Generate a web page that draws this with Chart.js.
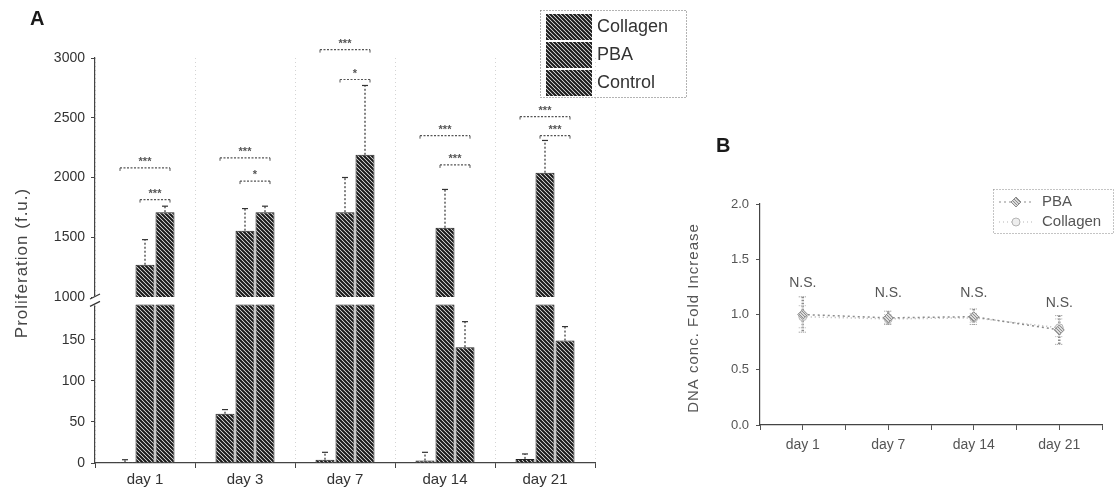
<!DOCTYPE html>
<html>
<head>
<meta charset="utf-8">
<title>Proliferation and DNA fold increase</title>
<script src="https://cdn.jsdelivr.net/npm/chart.js@4.4.1/dist/chart.umd.min.js"></script>
<style>
  html, body { margin: 0; padding: 0; background: #fff; }
  body { position: relative; width: 1115px; height: 499px; overflow: hidden; }
  canvas { position: absolute; top: 0; }
  #chartA { left: 0; }
  #chartB { left: 680px; }
</style>
</head>
<body>
<canvas id="chartA" width="700" height="499"></canvas>
<canvas id="chartB" width="435" height="499"></canvas>
<script>
// Panel A - proliferation, broken y axis
const daysA = ['day 1', 'day 3', 'day 7', 'day 14', 'day 21'];
const collagenA = [1, 60, 4, 3, 5];
const collagenErrA = [3, 5, 9, 10, 6];
const pbaA = [1270, 1555, 1710, 1580, 2040];
const pbaErrA = [210, 185, 290, 320, 270];
const controlA = [1710, 1710, 2190, 141, 149];
const controlErrA = [50, 50, 580, 31, 17];
const ticksHighA = [1000, 1500, 2000, 2500, 3000];
const ticksLowA = [0, 50, 100, 150];

// significance brackets (day, first bar, last bar, height, stars)
const sigDay = [0, 0, 1, 1, 2, 2, 3, 3, 4, 4];
const sigFrom = [0, 1, 0, 1, 0, 1, 0, 1, 0, 1];
const sigTo = [2, 2, 2, 2, 2, 2, 2, 2, 2, 2];
const sigValue = [2080, 1815, 2165, 1970, 3070, 2820, 2350, 2105, 2510, 2350];
const sigText = ['***', '***', '***', '*', '***', '*', '***', '***', '***', '***'];

// Panel B - DNA conc. fold increase
const daysB = ['day 1', 'day 7', 'day 14', 'day 21'];
const pbaB = [1.00, 0.97, 0.98, 0.86];
const pbaErrB = [0.16, 0.06, 0.07, 0.13];
const collagenB = [0.98, 0.96, 0.97, 0.88];
const collagenErrB = [0.10, 0.04, 0.04, 0.08];
const nsValueB = [1.28, 1.19, 1.19, 1.10];
const ticksB = [0, 0.5, 1.0, 1.5, 2.0];

const BREAK_LOW = 193; // top of the lower part of the broken axis
const FONT = '"Liberation Sans", Arial, sans-serif';
Chart.defaults.font.family = FONT;

// diagonal hatch like the scanned bars
function makeHatch(ctx, size, lw, color) {
    const c = document.createElement('canvas');
    c.width = size; c.height = size;
    const g = c.getContext('2d');
    g.fillStyle = '#fff';
    g.fillRect(0, 0, size, size);
    g.strokeStyle = color;
    g.lineWidth = lw;
    g.beginPath();
    g.moveTo(-1, -1); g.lineTo(size + 1, size + 1);
    g.moveTo(-1, size - 1); g.lineTo(1, size + 1);
    g.moveTo(size - 1, -1); g.lineTo(size + 1, 1);
    g.stroke();
    return ctx.createPattern(c, 'repeat');
}

function dottedLine(ctx, x1, y1, x2, y2, color, width, dash) {
    ctx.save();
    ctx.strokeStyle = color;
    ctx.lineWidth = width;
    ctx.setLineDash(dash);
    ctx.beginPath();
    ctx.moveTo(x1, y1);
    ctx.lineTo(x2, y2);
    ctx.stroke();
    ctx.restore();
}

// ---------- Panel A ----------
const ctxA = document.getElementById('chartA').getContext('2d');
const hatchA = makeHatch(ctxA, 4, 2.1, '#1a1a1a');

const barSeries = [
    { label: 'Collagen', values: collagenA, errs: collagenErrA },
    { label: 'PBA', values: pbaA, errs: pbaErrA },
    { label: 'Control', values: controlA, errs: controlErrA }
];

const datasetsA = [];
barSeries.forEach((s, i) => {
    const common = {
        label: s.label,
        stack: 's' + i,
        backgroundColor: hatchA,
        borderColor: '#222',
        borderWidth: 1,
        categoryPercentage: 0.6,
        barPercentage: 0.95
    };
    datasetsA.push(Object.assign({}, common, {
        yAxisID: 'yHigh',
        data: s.values.map(v => v >= 1000 ? v : null)
    }));
    datasetsA.push(Object.assign({}, common, {
        yAxisID: 'yLow',
        data: s.values.map(v => Math.min(v, BREAK_LOW))
    }));
});

function yPixA(chart, v) {
    const s = v >= 1000 ? chart.scales.yHigh : chart.scales.yLow;
    return s.getPixelForValue(v);
}
function barX(chart, series, day) {
    return chart.getDatasetMeta(series * 2 + 1).data[day].x;
}

const extrasA = {
    id: 'extrasA',
    afterDatasetsDraw(chart) {
        const ctx = chart.ctx;
        const yHigh = chart.scales.yHigh;
        const yLow = chart.scales.yLow;

        // error bars
        barSeries.forEach((s, si) => {
            s.values.forEach((v, di) => {
                const x = barX(chart, si, di);
                const y0 = yPixA(chart, v);
                const y1 = yPixA(chart, v + s.errs[di]);
                dottedLine(ctx, x, y0, x, y1, '#333', 1.2, [2, 2]);
                dottedLine(ctx, x - 3, y1, x + 3, y1, '#333', 1.2, []);
            });
        });

        // significance brackets
        ctx.save();
        for (let k = 0; k < sigDay.length; k++) {
            const x1 = barX(chart, sigFrom[k], sigDay[k]) - 5;
            const x2 = barX(chart, sigTo[k], sigDay[k]) + 5;
            const y = yHigh.getPixelForValue(sigValue[k]);
            dottedLine(ctx, x1, y, x2, y, '#555', 1.2, [2, 1.5]);
            dottedLine(ctx, x1, y, x1, y + 3, '#555', 1, []);
            dottedLine(ctx, x2, y, x2, y + 3, '#555', 1, []);
            ctx.fillStyle = '#555';
            ctx.font = 'bold 11px ' + FONT;
            ctx.textAlign = 'center';
            ctx.textBaseline = 'alphabetic';
            ctx.fillText(sigText[k], (x1 + x2) / 2, y - 3);
        }
        ctx.restore();

        // axis break
        const ax = yHigh.right;
        const yb = yHigh.bottom;
        const yl = yLow.getPixelForValue(BREAK_LOW);
        ctx.save();
        ctx.fillStyle = '#fff';
        ctx.fillRect(ax - 3, yb - 1, 6, yl - yb + 2);
        dottedLine(ctx, ax - 5, yb + 2, ax + 5, yb - 3, '#333', 1.2, []);
        dottedLine(ctx, ax - 5, yl + 2, ax + 5, yl - 3, '#333', 1.2, []);
        ctx.restore();
    },
    afterDraw(chart) {
        const ctx = chart.ctx;
        ctx.save();
        // panel letter
        ctx.fillStyle = '#1a1a1a';
        ctx.font = 'bold 20px ' + FONT;
        ctx.textAlign = 'left';
        ctx.textBaseline = 'middle';
        ctx.fillText('A', 30, 19);

        // y title
        ctx.save();
        ctx.translate(22, 263);
        ctx.rotate(-Math.PI / 2);
        ctx.fillStyle = '#444';
        ctx.font = '17px ' + FONT;
        ctx.letterSpacing = '1px';
        ctx.textAlign = 'center';
        ctx.textBaseline = 'middle';
        ctx.fillText('Proliferation (f.u.)', 0, 0);
        ctx.restore();

        // legend
        const lx = 540, ly = 10, lw = 146, lh = 87;
        ctx.strokeStyle = '#666';
        ctx.lineWidth = 1;
        ctx.setLineDash([1, 2]);
        ctx.strokeRect(lx + 0.5, ly + 0.5, lw, lh);
        ctx.setLineDash([]);
        ctx.font = '18px ' + FONT;
        ctx.textBaseline = 'middle';
        ctx.textAlign = 'left';
        barSeries.forEach((s, i) => {
            const ry = ly + 4 + i * 28;
            ctx.fillStyle = hatchA;
            ctx.fillRect(lx + 6, ry, 46, 26);
            ctx.fillStyle = '#333';
            ctx.fillText(s.label, lx + 57, ry + 13);
        });
        ctx.restore();
    }
};

const yAxisA = {
    type: 'linear',
    position: 'left',
    stack: 'prolif',
    stacked: false,
    grid: { drawOnChartArea: false, tickColor: '#444', tickLength: 4 },
    border: { color: '#444', width: 1.2 },
    ticks: { color: '#333', font: { size: 14 }, padding: 6, callback: v => String(v) },
    afterFit: s => { s.width = 95; }
};

new Chart(ctxA, {
    type: 'bar',
    data: { labels: daysA, datasets: datasetsA },
    options: {
        responsive: false,
        animation: false,
        layout: { padding: { left: 0, top: 58, right: 105, bottom: 0 } },
        plugins: { legend: { display: false }, tooltip: { enabled: false } },
        scales: {
            x: {
                offset: true,
                grid: { offset: true, drawOnChartArea: true, color: '#d4d4d4', tickColor: '#444', tickLength: 5 },
                border: { color: '#444', width: 1.2, dash: [1, 3] },
                ticks: { color: '#333', font: { size: 15 }, padding: 3 },
                afterFit: s => { s.height = 36; }
            },
            // the first axis of the stack is placed at the bottom
            yLow: Object.assign({}, yAxisA, {
                stackWeight: 166,
                min: 0,
                max: 202,
                afterBuildTicks: s => { s.ticks = ticksLowA.map(v => ({ value: v })); }
            }),
            yHigh: Object.assign({}, yAxisA, {
                stackWeight: 239,
                min: 1000,
                max: 3000,
                afterBuildTicks: s => { s.ticks = ticksHighA.map(v => ({ value: v })); }
            })
        }
    },
    plugins: [extrasA]
});

// ---------- Panel B ----------
const ctxB = document.getElementById('chartB').getContext('2d');
const hatchB = makeHatch(ctxB, 3, 1.2, '#8a8a8a');

const lineSeries = [
    { label: 'PBA', values: pbaB, errs: pbaErrB, color: '#8c8c8c', dash: [2, 3], style: 'rectRot', radius: 5, fill: hatchB },
    { label: 'Collagen', values: collagenB, errs: collagenErrB, color: '#b5b5b5', dash: [1, 3], style: 'circle', radius: 4, fill: '#eeeeee' }
];

const extrasB = {
    id: 'extrasB',
    beforeDatasetsDraw(chart) {
        const ctx = chart.ctx;
        const x = chart.scales.x, y = chart.scales.y;
        lineSeries.forEach((s, si) => {
            s.values.forEach((v, i) => {
                const px = x.getPixelForValue(i);
                const yTop = y.getPixelForValue(v + s.errs[i]);
                const yBot = y.getPixelForValue(v - s.errs[i]);
                dottedLine(ctx, px, yTop, px, yBot, s.color, si === 0 ? 2.5 : 1.5, [1.5, 1.5]);
                dottedLine(ctx, px - 4, yTop, px + 4, yTop, s.color, 1, [1, 1]);
                dottedLine(ctx, px - 4, yBot, px + 4, yBot, s.color, 1, [1, 1]);
            });
        });
    },
    afterDraw(chart) {
        const ctx = chart.ctx;
        const x = chart.scales.x, y = chart.scales.y;
        ctx.save();
        // N.S. labels
        ctx.fillStyle = '#555';
        ctx.font = '14px ' + FONT;
        ctx.textAlign = 'center';
        ctx.textBaseline = 'middle';
        nsValueB.forEach((v, i) => {
            ctx.fillText('N.S.', x.getPixelForValue(i), y.getPixelForValue(v));
        });

        // panel letter
        ctx.fillStyle = '#1a1a1a';
        ctx.font = 'bold 20px ' + FONT;
        ctx.textAlign = 'left';
        ctx.fillText('B', 36, 146);

        // y title
        ctx.save();
        ctx.translate(14, 318);
        ctx.rotate(-Math.PI / 2);
        ctx.fillStyle = '#555';
        ctx.font = '15px ' + FONT;
        ctx.letterSpacing = '1px';
        ctx.textAlign = 'center';
        ctx.textBaseline = 'middle';
        ctx.fillText('DNA conc. Fold Increase', 0, 0);
        ctx.restore();

        // legend
        const lx = 313, ly = 189, lw = 120, lh = 44;
        ctx.strokeStyle = '#888';
        ctx.lineWidth = 1;
        ctx.setLineDash([1, 2]);
        ctx.strokeRect(lx + 0.5, ly + 0.5, lw, lh);
        ctx.setLineDash([]);
        ctx.font = '15px ' + FONT;
        ctx.textAlign = 'left';
        ctx.textBaseline = 'middle';
        lineSeries.forEach((s, i) => {
            const ry = ly + 13 + i * 20;
            dottedLine(ctx, lx + 6, ry, lx + 40, ry, s.color, 1.2, s.dash);
            ctx.save();
            ctx.fillStyle = s.fill;
            ctx.strokeStyle = s.color;
            ctx.beginPath();
            if (s.style === 'rectRot') {
                ctx.moveTo(lx + 23, ry - 5); ctx.lineTo(lx + 28, ry);
                ctx.lineTo(lx + 23, ry + 5); ctx.lineTo(lx + 18, ry);
                ctx.closePath();
            } else {
                ctx.arc(lx + 23, ry, 4, 0, Math.PI * 2);
            }
            ctx.fill();
            ctx.stroke();
            ctx.restore();
            ctx.fillStyle = '#555';
            ctx.fillText(s.label, lx + 49, ry);
        });
        ctx.restore();
    }
};

new Chart(ctxB, {
    type: 'line',
    data: {
        datasets: lineSeries.map(s => ({
            label: s.label,
            data: s.values.map((v, i) => ({ x: i, y: v })),
            borderColor: s.color,
            borderDash: s.dash,
            borderWidth: 1.5,
            pointStyle: s.style,
            pointRadius: s.radius,
            pointBackgroundColor: s.fill,
            pointBorderColor: s.color,
            pointBorderWidth: 1,
            fill: false
        }))
    },
    options: {
        responsive: false,
        animation: false,
        layout: { padding: { left: 0, top: 204, right: 13, bottom: 0 } },
        plugins: { legend: { display: false }, tooltip: { enabled: false } },
        scales: {
            x: {
                type: 'linear',
                min: -0.5,
                max: daysB.length - 0.5,
                afterBuildTicks: s => {
                    s.ticks = [];
                    for (let v = -0.5; v <= daysB.length - 0.5; v += 0.5) s.ticks.push({ value: v });
                },
                ticks: {
                    color: '#555',
                    font: { size: 14 },
                    padding: 7,
                    autoSkip: false,
                    maxRotation: 0,
                    callback: v => Number.isInteger(v) ? daysB[v] : ''
                },
                grid: { drawOnChartArea: false, tickColor: '#555', tickLength: 5 },
                border: { color: '#444', width: 1.2 },
                afterFit: s => { s.height = 74; }
            },
            y: {
                min: 0,
                max: 2,
                afterBuildTicks: s => { s.ticks = ticksB.map(v => ({ value: v })); },
                ticks: { color: '#555', font: { size: 13 }, padding: 7, callback: v => v.toFixed(1) },
                grid: { drawOnChartArea: false, tickColor: '#555', tickLength: 4 },
                border: { color: '#444', width: 1.2 },
                afterFit: s => { s.width = 80; }
            }
        }
    },
    plugins: [extrasB]
});
</script>
</body>
</html>
